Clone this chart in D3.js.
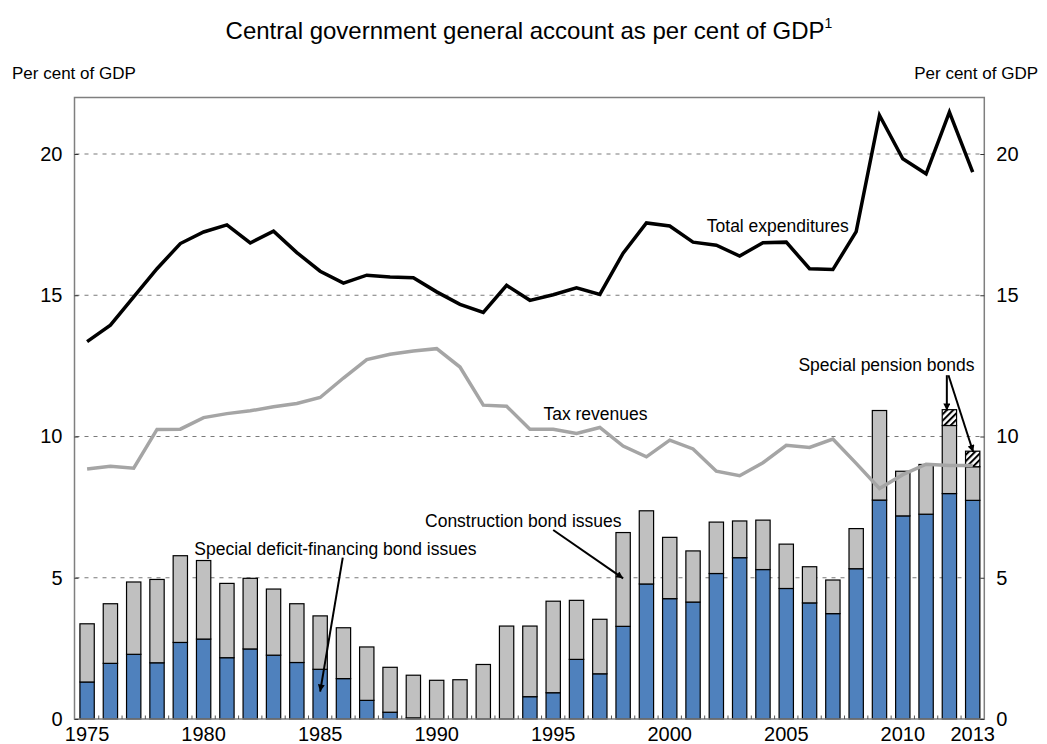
<!DOCTYPE html>
<html>
<head>
<meta charset="utf-8">
<script src="https://cdn.jsdelivr.net/npm/d3@7"></script>
<style>
  html, body { margin: 0; padding: 0; background: #fff; }
  svg { display: block; font-family: "Liberation Sans", Arial, sans-serif; }
</style>
</head>
<body>
<svg id="chart" width="1047" height="744"></svg>
<script>
// ---------------- DATA ----------------
const years = [1975,1976,1977,1978,1979,1980,1981,1982,1983,1984,1985,1986,1987,1988,1989,
  1990,1991,1992,1993,1994,1995,1996,1997,1998,1999,2000,2001,2002,2003,2004,2005,2006,2007,
  2008,2009,2010,2011,2012,2013];

// Special deficit-financing bond issues (blue, bottom)
const deficitBonds = [1.31,1.97,2.29,1.99,2.71,2.83,2.17,2.48,2.26,2.00,1.76,1.43,0.66,0.24,0.04,
  0,0,0,0,0.79,0.93,2.11,1.60,3.28,4.78,4.26,4.14,5.15,5.71,5.29,4.62,4.11,3.73,
  5.32,7.75,7.19,7.25,7.98,7.74];

// Construction bond issues (grey, stacked)
const constructionBonds = [2.06,2.11,2.56,2.95,3.07,2.78,2.63,2.50,2.34,2.08,1.89,1.80,1.89,1.59,1.51,
  1.37,1.39,1.93,3.29,2.50,3.24,2.09,1.93,3.32,2.59,2.17,1.81,1.82,1.30,1.75,1.57,1.28,1.19,
  1.42,3.17,1.58,1.76,2.41,1.19];

// Special pension bonds (hatched, stacked)
const pensionBonds = [0,0,0,0,0,0,0,0,0,0,0,0,0,0,0,
  0,0,0,0,0,0,0,0,0,0,0,0,0,0,0,0,0,0,
  0,0,0,0,0.56,0.55];

// Total expenditures (black line)
const totalExpenditures = [13.36,13.94,14.94,15.94,16.83,17.24,17.49,16.85,17.27,16.51,15.85,15.43,15.71,15.65,15.62,
  15.12,14.68,14.39,15.35,14.82,15.02,15.26,15.03,16.49,17.56,17.45,16.88,16.77,16.39,16.86,16.88,15.94,15.91,
  17.25,21.37,19.83,19.30,21.48,19.36];

// Tax revenues (grey line)
const taxRevenues = [8.85,8.95,8.88,10.25,10.26,10.67,10.81,10.91,11.05,11.17,11.38,12.07,12.72,12.91,13.03,
  13.11,12.46,11.11,11.07,10.26,10.26,10.11,10.32,9.66,9.28,9.87,9.56,8.77,8.61,9.07,9.69,9.61,9.91,
  9.05,8.16,8.65,9.02,8.97,8.97];

const yTicks = [0,5,10,15,20];
const xTickLabels = [1975,1980,1985,1990,1995,2000,2005,2010,2013];

const titleText = "Central government general account as per cent of GDP";
const titleNote = "1";
const unitLabel = "Per cent of GDP";

// annotation texts with anchor in data coords [year, value]
const labelTexts = ["Total expenditures","Tax revenues","Construction bond issues",
  "Special deficit-financing bond issues","Special pension bonds"];
const labelYears = [2001.59, 1994.58, 1989.5, 1979.6, 2005.52];
const labelValues = [17.24, 10.58, 6.80, 5.80, 12.32];

// arrows: from [year,value] to [year,value]
const arrowFromYears = [1995.0, 1985.97, 2011.89, 2011.96];
const arrowFromValues = [6.69, 5.71, 12.17, 12.17];
const arrowToYears = [1998.0, 1985.0, 2011.89, 2013.02];
const arrowToValues = [4.98, 0.97, 10.92, 9.45];

// ---------------- LAYOUT ----------------
const svg = d3.select("#chart");
const padL = 75.5, padR = 984.3, padT = 97.5, padB = 719;

const x = d3.scaleBand().domain(years).range([padL, padR]).paddingInner(0.385).paddingOuter(0.19);
const y = d3.scaleLinear().domain([0, 22]).range([padB, padT]);
const xc = v => x(v) + x.bandwidth() / 2;
const xl = d3.scaleLinear().domain([1975, 2013]).range([xc(1975), xc(2013)]);

// hatch pattern
const defs = svg.append("defs");
const pat = defs.append("pattern").attr("id", "hatch").attr("patternUnits", "userSpaceOnUse")
  .attr("width", 4.5).attr("height", 4.5).attr("patternTransform", "rotate(45)");
pat.append("rect").attr("width", 4.5).attr("height", 4.5).attr("fill", "#fff");
pat.append("line").attr("x1", 1).attr("y1", 0).attr("x2", 1).attr("y2", 4.5)
  .attr("stroke", "#000").attr("stroke-width", 2);
defs.append("marker").attr("id", "arrow").attr("viewBox", "0 0 10 10")
  .attr("refX", 10).attr("refY", 5).attr("markerWidth", 11).attr("markerHeight", 7)
  .attr("markerUnits", "userSpaceOnUse").attr("orient", "auto")
  .append("path").attr("d", "M0,0 L10,5 L0,10 Z").attr("fill", "#000");

// title
const title = svg.append("text").attr("x", 529).attr("y", 39).attr("text-anchor", "middle")
  .attr("font-size", 24).attr("fill", "#000");
title.append("tspan").text(titleText);
title.append("tspan").attr("font-size", 14).attr("dy", -11).text(titleNote);

svg.append("text").attr("x", 12).attr("y", 79).attr("font-size", 17).text(unitLabel);
svg.append("text").attr("x", 1038).attr("y", 79).attr("font-size", 17).attr("text-anchor", "end").text(unitLabel);

// gridlines
svg.append("g").selectAll("line").data(yTicks.filter(d => d > 0)).join("line")
  .attr("x1", padL).attr("x2", padR).attr("y1", d => y(d)).attr("y2", d => y(d))
  .attr("stroke", "#7a7a7a").attr("stroke-width", 1.2).attr("stroke-dasharray", "4,5");

// stacked bars
const rows = years.map((v, i) => ({year: v, deficit: deficitBonds[i], construction: constructionBonds[i], pension: pensionBonds[i]}));
const stack = d3.stack().keys(["deficit", "construction", "pension"])(rows);
const fills = {deficit: "#4f81bd", construction: "#c0c0c0", pension: "url(#hatch)"};
svg.append("g").selectAll("g").data(stack).join("g")
  .attr("fill", d => fills[d.key])
  .selectAll("rect").data(d => d.filter(p => p[1] - p[0] > 0)).join("rect")
  .attr("x", d => x(d.data.year)).attr("width", x.bandwidth())
  .attr("y", d => y(d[1])).attr("height", d => y(d[0]) - y(d[1]))
  .attr("stroke", "#000").attr("stroke-width", 1.2);

// lines
const line = d3.line().x((d, i) => xc(years[i])).y(d => y(d));
svg.append("path").datum(taxRevenues).attr("d", line).attr("fill", "none")
  .attr("stroke", "#a5a5a5").attr("stroke-width", 3.5).attr("stroke-linejoin", "miter");
svg.append("path").datum(totalExpenditures).attr("d", line).attr("fill", "none")
  .attr("stroke", "#000").attr("stroke-width", 3.5).attr("stroke-linejoin", "miter");

// frame
svg.append("rect").attr("x", padL - 1).attr("y", padT).attr("width", padR - padL + 1).attr("height", padB - padT)
  .attr("fill", "none").attr("stroke", "#7f7f7f").attr("stroke-width", 1.5);

// axes
const axL = svg.append("g").attr("transform", `translate(${padL - 1},0)`)
  .call(d3.axisLeft(y).tickValues(yTicks).tickSizeInner(-4).tickSizeOuter(0).tickPadding(12));
const axR = svg.append("g").attr("transform", `translate(${padR},0)`)
  .call(d3.axisRight(y).tickValues(yTicks).tickSizeInner(-4).tickSizeOuter(0).tickPadding(12));
const axB = svg.append("g").attr("transform", `translate(0,${padB})`)
  .call(d3.axisBottom(x).tickValues(xTickLabels).tickSize(0).tickPadding(7.5));
[axL, axR, axB].forEach(g => {
  g.select(".domain").remove();
  g.selectAll("text").attr("font-size", 20).attr("font-family", "Liberation Sans, Arial, sans-serif").attr("fill", "#000");
  g.selectAll(".tick line").attr("stroke", "#333");
});
// small inner ticks at band boundaries on the x axis
svg.append("g").selectAll("line").data(years.slice(1)).join("line")
  .attr("x1", d => x(d) - x.step() * x.paddingInner() / 2).attr("x2", d => x(d) - x.step() * x.paddingInner() / 2)
  .attr("y1", padB).attr("y2", padB - 3.5).attr("stroke", "#555").attr("stroke-width", 1);

// annotations
svg.append("g").selectAll("text").data(labelTexts).join("text")
  .attr("x", (d, i) => xl(labelYears[i])).attr("y", (d, i) => y(labelValues[i]))
  .attr("font-size", 17.5).attr("fill", "#000").text(d => d);
svg.append("g").selectAll("line").data(arrowFromYears).join("line")
  .attr("x1", (d, i) => xl(d)).attr("y1", (d, i) => y(arrowFromValues[i]))
  .attr("x2", (d, i) => xl(arrowToYears[i])).attr("y2", (d, i) => y(arrowToValues[i]))
  .attr("stroke", "#000").attr("stroke-width", 2).attr("marker-end", "url(#arrow)");
</script>
</body>
</html>
